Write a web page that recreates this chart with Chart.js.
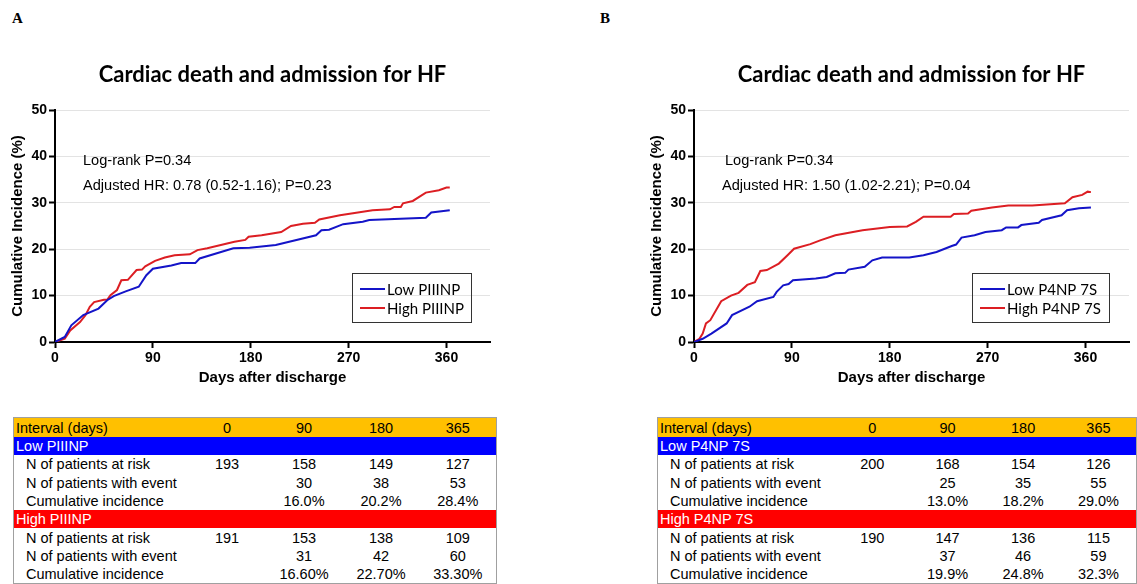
<!DOCTYPE html>
<html>
<head>
<meta charset="utf-8">
<script src="https://cdn.jsdelivr.net/npm/chart.js@4"></script>
<style>
  body { margin: 0; background: #fff; width: 1137px; height: 584px; overflow: hidden; position: relative; font-family: "Liberation Sans", Arial, sans-serif; }
  canvas { position: absolute; top: 0; }
  .panel { position: absolute; top: 10px; font: bold 15px "Liberation Serif", serif; }
  table.risk { position: absolute; top: 417px; border-collapse: collapse; table-layout: fixed; font-size: 14.5px; border: 1px solid #a0a0a0; }
  table.risk td { padding: 0; height: 18.3px; line-height: 18px; white-space: nowrap; text-align: center; overflow: hidden; }
  table.risk td.lab { text-align: left; padding-left: 12px; }
  table.risk tr.head td { background: #ffc000; height: 19px; }
  table.risk tr.head td.lab { padding-left: 2px; }
  table.risk tr.grp td { color: #fff; text-align: left; padding-left: 2px; }
</style>
</head>
<body>
<div class="panel" style="left:12px">A</div>
<div class="panel" style="left:600px">B</div>
<canvas id="chartA" width="560" height="395" style="left:0px"></canvas>
<canvas id="chartB" width="498" height="395" style="left:639px"></canvas>
<table class="risk" id="tableA" style="left:13px"></table>
<table class="risk" id="tableB" style="left:657px"></table>

<script>
// panel A: PIIINP
const lowPIIINPDays = [0, 9, 15, 26, 40, 48, 54, 65, 77, 84, 90, 107, 116, 129, 133, 164, 179, 203, 240, 245, 252, 265, 283, 289, 341, 346, 363]
const lowPIIINPPct  = [0, 1.1, 3.6, 5.8, 7.2, 9.0, 9.9, 10.9, 11.9, 14.4, 15.8, 16.5, 17.0, 17.0, 18.0, 20.2, 20.3, 20.9, 23.0, 24.1, 24.2, 25.4, 25.9, 26.3, 26.8, 27.9, 28.4]
const highPIIINPDays = [0, 9, 14, 23, 28, 32, 36, 45, 48, 51, 57, 61, 67, 75, 80, 83, 92, 101, 110, 124, 131, 140, 165, 175, 178, 190, 208, 217, 228, 239, 243, 262, 292, 308, 312, 318, 320, 329, 341, 353, 360, 363]
const highPIIINPPct  = [0, 0.7, 2.5, 4.3, 5.8, 7.6, 8.6, 9.1, 9.1, 10.1, 11.2, 13.3, 13.4, 15.5, 15.6, 16.3, 17.5, 18.2, 18.7, 18.9, 19.8, 20.2, 21.6, 22.0, 22.7, 23.0, 23.7, 25.0, 25.5, 25.7, 26.4, 27.3, 28.4, 28.6, 29.1, 29.1, 29.9, 30.4, 32.2, 32.7, 33.3, 33.3]

// panel B: P4NP 7S
const lowP4NPDays = [0, 8, 16, 30, 35, 51, 58, 73, 76, 82, 87, 91, 112, 122, 130, 139, 142, 157, 164, 173, 198, 211, 223, 237, 241, 246, 258, 268, 283, 287, 298, 301, 317, 320, 338, 343, 354, 365]
const lowP4NPPct  = [0, 0.7, 1.8, 4.0, 5.8, 7.6, 8.8, 9.7, 10.8, 12.2, 12.5, 13.3, 13.7, 14.0, 14.8, 14.9, 15.6, 16.2, 17.6, 18.2, 18.2, 18.7, 19.4, 20.7, 21.0, 22.5, 23.0, 23.7, 24.1, 24.7, 24.7, 25.2, 25.7, 26.3, 27.3, 28.4, 28.8, 29.0]
const highP4NPDays = [0, 5, 8, 11, 15, 25, 34, 41, 49, 56, 61, 67, 78, 86, 92, 107, 116, 130, 155, 180, 196, 204, 211, 236, 239, 252, 255, 274, 289, 311, 341, 348, 357, 362, 365]
const highP4NPPct  = [0, 0.7, 1.8, 4.0, 4.7, 8.8, 10.0, 10.6, 12.3, 12.9, 15.3, 15.5, 16.9, 18.7, 20.1, 21.1, 21.9, 23.0, 24.1, 24.8, 24.9, 25.9, 27.0, 27.0, 27.6, 27.7, 28.3, 29.0, 29.4, 29.4, 29.9, 31.2, 31.7, 32.4, 32.3]

const xTicks = [0, 90, 180, 270, 360]

// risk tables
const intervalDays = [0, 90, 180, 365]
const rowLabels = ["N of patients at risk", "N of patients with event", "Cumulative incidence"]
const lowPIIINPTable  = [["193", "158", "149", "127"], ["", "30", "38", "53"], ["", "16.0%", "20.2%", "28.4%"]]
const highPIIINPTable = [["191", "153", "138", "109"], ["", "31", "42", "60"], ["", "16.60%", "22.70%", "33.30%"]]
const lowP4NPTable  = [["200", "168", "154", "126"], ["", "25", "35", "55"], ["", "13.0%", "18.2%", "29.0%"]]
const highP4NPTable = [["190", "147", "136", "115"], ["", "37", "46", "59"], ["", "19.9%", "24.8%", "32.3%"]]

const BLUE = "#1414c8"
const RED = "#dc1e23"

Chart.defaults.font.family = '"Liberation Sans", Arial, sans-serif'
Chart.defaults.color = "#000"

const toPoints = (days, pct) => days.map((d, i) => ({ x: d, y: pct[i] }))

const panelText = {
  id: "panelText",
  afterDraw(chart, args, opts) {
    const { ctx, chartArea: a } = chart
    ctx.save()
    ctx.fillStyle = "#000"
    ctx.textBaseline = "middle"
    ctx.font = "bold 22px Lato"
    ctx.textAlign = "center"
    ctx.fillText(opts.title, (a.left + a.right) / 2, 75)

    ctx.textAlign = "left"
    ctx.font = '14.6px "Liberation Sans"'
    opts.notes.forEach(n => ctx.fillText(n.text, a.left + n.dx, n.y))

    const L = opts.legend
    const lx = a.left + L.dx
    ctx.strokeStyle = "#333"
    ctx.lineWidth = 1
    ctx.strokeRect(lx + 0.5, L.y + 0.5, L.w, L.h)
    ctx.font = "15px Lato"
    chart.data.datasets.forEach((ds, i) => {
      const y = L.y + 16 + i * 19
      ctx.strokeStyle = ds.borderColor
      ctx.lineWidth = 2
      ctx.beginPath()
      ctx.moveTo(lx + 8, y)
      ctx.lineTo(lx + 33, y)
      ctx.stroke()
      ctx.fillText(ds.label, lx + 35, y + 1)
    })
    ctx.restore()
  }
}

function makeChart(id, lowLabel, lowPts, highLabel, highPts, padRight, text) {
  return new Chart(document.getElementById(id), {
    type: "line",
    data: {
      datasets: [
        { label: lowLabel, data: lowPts, borderColor: BLUE, borderWidth: 2, pointRadius: 0, tension: 0 },
        { label: highLabel, data: highPts, borderColor: RED, borderWidth: 2, pointRadius: 0, tension: 0 }
      ]
    },
    options: {
      responsive: false,
      animation: false,
      layout: { padding: { left: 0, right: padRight, top: 110, bottom: 8 } },
      plugins: { legend: { display: false }, tooltip: { enabled: false }, panelText: text },
      scales: {
        x: {
          type: "linear",
          min: 0,
          max: 400,
          afterBuildTicks: s => { s.ticks = xTicks.map(v => ({ value: v })) },
          afterFit: s => { s.height = 45 },
          grid: { drawOnChartArea: false, tickLength: 6, tickWidth: 2, tickColor: "#000" },
          border: { color: "#000", width: 2 },
          ticks: { font: { size: 14, weight: "bold" }, padding: 2, maxRotation: 0 },
          title: { display: true, text: "Days after discharge", font: { size: 15, weight: "bold" }, padding: { top: 0, bottom: 0 } }
        },
        y: {
          min: 0,
          max: 50,
          afterFit: s => { s.width = 55 },
          grid: { color: "#e3e3e3", lineWidth: 1, tickLength: 6, tickWidth: 2, tickColor: "#000" },
          border: { color: "#000", width: 2 },
          ticks: { stepSize: 10, font: { size: 14, weight: "bold" }, padding: 2 },
          title: { display: true, text: "Cumulative Incidence (%)", font: { size: 15, weight: "bold" }, padding: { top: 9, bottom: 0 } }
        }
      }
    },
    plugins: [panelText]
  })
}

makeChart("chartA", "Low PIIINP", toPoints(lowPIIINPDays, lowPIIINPPct), "High PIIINP", toPoints(highPIIINPDays, highPIIINPPct), 70, {
  title: "Cardiac death and admission for HF",
  notes: [{ text: "Log-rank P=0.34", dx: 28, y: 161 }, { text: "Adjusted HR: 0.78 (0.52-1.16); P=0.23", dx: 28, y: 186 }],
  legend: { dx: 297, y: 273, w: 119, h: 49 }
})

makeChart("chartB", "Low P4NP 7S", toPoints(lowP4NPDays, lowP4NPPct), "High P4NP 7S", toPoints(highP4NPDays, highP4NPPct), 8, {
  title: "Cardiac death and admission for HF",
  notes: [{ text: "Log-rank P=0.34", dx: 31, y: 161 }, { text: "Adjusted HR: 1.50 (1.02-2.21); P=0.04", dx: 28, y: 186 }],
  legend: { dx: 278, y: 273, w: 137, h: 49 }
})

function buildTable(id, labWidth, colWidth, lowName, lowRows, highName, highRows) {
  const t = document.getElementById(id)
  let html = `<colgroup><col style="width:${labWidth}px">` + intervalDays.map(() => `<col style="width:${colWidth}px">`).join("") + "</colgroup>"
  html += `<tr class="head"><td class="lab">Interval (days)</td>` + intervalDays.map(d => `<td>${d}</td>`).join("") + "</tr>"
  const group = (name, color, rows) => {
    let s = `<tr class="grp"><td colspan="5" style="background:${color}">${name}</td></tr>`
    rows.forEach((r, i) => {
      s += `<tr><td class="lab">${rowLabels[i]}</td>` + r.map(v => `<td>${v}</td>`).join("") + "</tr>"
    })
    return s
  }
  html += group(lowName, "#0000ff", lowRows)
  html += group(highName, "#ff0000", highRows)
  t.innerHTML = html
}

buildTable("tableA", 175, 77, "Low PIIINP", lowPIIINPTable, "High PIIINP", highPIIINPTable)
buildTable("tableB", 178, 77, "Low P4NP 7S", lowP4NPTable, "High P4NP 7S", highP4NPTable)
</script>
</body>
</html>
